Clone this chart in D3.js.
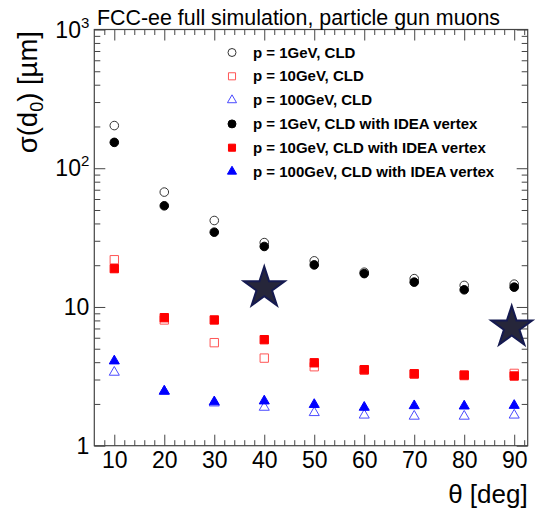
<!DOCTYPE html>
<html>
<head>
<meta charset="utf-8">
<script src="https://cdn.jsdelivr.net/npm/d3@7.9.0/dist/d3.min.js"></script>
<style>
  body { margin: 0; background: #fff; }
  svg { font-family: "Liberation Sans", Arial, Helvetica, sans-serif; }
</style>
</head>
<body>
<svg id="chart" width="539" height="512"></svg>
<script>
// theta bins (deg)
const theta = [10, 20, 30, 40, 50, 60, 70, 80, 90];

// sigma(d0) in um
const cld1 = [203, 67.3, 42.0, 29.1, 21.5, 17.8, 16.0, 14.3, 14.6];
const cld10 = [21.9, 8.06, 5.53, 4.28, 3.71, 3.51, 3.28, 3.2, 3.32];
const cld100 = [3.38, 2.47, 2.03, 1.89, 1.73, 1.66, 1.63, 1.63, 1.66];
const idea1 = [153.6, 53.6, 34.6, 27.3, 20.1, 17.4, 15.1, 13.3, 13.9];
const idea10 = [18.9, 8.37, 8.06, 5.81, 3.96, 3.53, 3.30, 3.23, 3.18];
const idea100 = [4.08, 2.47, 2.07, 2.10, 1.98, 1.89, 1.94, 1.93, 1.95];

// the two big stars
const starTheta = [40, 89.5];
const starVal = [13.7, 7.14];

const xTicks = [10, 20, 30, 40, 50, 60, 70, 80, 90];
const yTicks = [1, 10, 100, 1000];
const yTickLabels = [["1", ""], ["10", ""], ["10", "2"], ["10", "3"]];

const legendLabels = [
  "p = 1GeV, CLD",
  "p = 10GeV, CLD",
  "p = 100GeV, CLD",
  "p = 1GeV, CLD with IDEA vertex",
  "p = 10GeV, CLD with IDEA vertex",
  "p = 100GeV, CLD with IDEA vertex"
];

const pLeft = 94.3, pRight = 527.7, pTop = 29.5, pBottom = 445.7;

const svg = d3.select("#chart");

const x = d3.scaleLinear().domain([6, 92.7]).range([pLeft, pRight]);
const y = d3.scaleLog().domain([1, 1000]).range([pBottom, pTop]);

// minor ticks
let xMinor = d3.range(8, 93, 2).filter(v => v % 10 !== 0);
let yMinor = [];
[1, 10, 100].forEach(d => { for (let k = 2; k <= 9; k++) yMinor.push(d * k); });

const axisColor = "#444";

function styleAxis(g) {
  g.select(".domain").remove();
  g.selectAll("line").attr("stroke", axisColor).attr("stroke-width", 1);
}

// bottom
svg.append("g").attr("transform", `translate(0,${pBottom})`)
  .call(d3.axisBottom(x).tickValues(xTicks).tickSize(-11).tickPadding(6))
  .call(styleAxis)
  .call(g => g.selectAll("text").attr("font-size", 23).attr("fill", "#000")
    .attr("font-family", "Liberation Sans, Arial, sans-serif"));
svg.append("g").attr("transform", `translate(0,${pBottom})`)
  .call(d3.axisBottom(x).tickValues(xMinor).tickSize(-5.5).tickFormat(""))
  .call(styleAxis);
// top
svg.append("g").attr("transform", `translate(0,${pTop})`)
  .call(d3.axisTop(x).tickValues(xTicks).tickSize(-11).tickFormat(""))
  .call(styleAxis);
svg.append("g").attr("transform", `translate(0,${pTop})`)
  .call(d3.axisTop(x).tickValues(xMinor).tickSize(-5.5).tickFormat(""))
  .call(styleAxis);
// left
svg.append("g").attr("transform", `translate(${pLeft},0)`)
  .call(d3.axisLeft(y).tickValues(yTicks).tickSize(-11).tickFormat(""))
  .call(styleAxis);
svg.append("g").attr("transform", `translate(${pLeft},0)`)
  .call(d3.axisLeft(y).tickValues(yMinor).tickSize(-6).tickFormat(""))
  .call(styleAxis);
// right
svg.append("g").attr("transform", `translate(${pRight},0)`)
  .call(d3.axisRight(y).tickValues(yTicks).tickSize(-11).tickFormat(""))
  .call(styleAxis);
svg.append("g").attr("transform", `translate(${pRight},0)`)
  .call(d3.axisRight(y).tickValues(yMinor).tickSize(-6).tickFormat(""))
  .call(styleAxis);

// frame
svg.append("rect")
  .attr("x", pLeft).attr("y", pTop)
  .attr("width", pRight - pLeft).attr("height", pBottom - pTop)
  .attr("fill", "none").attr("stroke", axisColor).attr("stroke-width", 1.2);

// y tick labels with superscripts
yTicks.forEach((v, i) => {
  const t = svg.append("text")
    .attr("x", pLeft - 5).attr("y", y(v) + 8)
    .attr("text-anchor", "end")
    .attr("font-size", 23);
  t.append("tspan").text(yTickLabels[i][0]);
  if (yTickLabels[i][1]) {
    t.append("tspan").attr("font-size", 15).attr("dy", -10).text(yTickLabels[i][1]);
  }
});

// title
svg.append("text")
  .attr("x", 97).attr("y", 25)
  .attr("font-size", 21.4)
  .text("FCC-ee full simulation, particle gun muons");

// axis titles
svg.append("text")
  .attr("x", pRight).attr("y", 503)
  .attr("text-anchor", "end")
  .attr("font-size", 26)
  .text("θ [deg]");

const yl = svg.append("text")
  .attr("transform", "translate(37,31) rotate(-90)")
  .attr("text-anchor", "end")
  .attr("font-size", 27.5);
yl.append("tspan").text("σ(d");
yl.append("tspan").attr("font-size", 18).attr("dy", 6).text("0");
yl.append("tspan").attr("dy", -6).text(") [µm]");

// marker shapes (plot size, legend size)
const shapes = {
  circle: [d3.symbol().type(d3.symbolCircle).size(58)(), d3.symbol().type(d3.symbolCircle).size(50)()],
  square: [d3.symbol().type(d3.symbolSquare).size(70)(), d3.symbol().type(d3.symbolSquare).size(50)()],
  tri: [d3.symbol().type(d3.symbolTriangle).size(44)(), d3.symbol().type(d3.symbolTriangle).size(36)()]
};

const series = [
  { vals: cld1, shape: "circle", fill: "none", stroke: "#333" },
  { vals: cld10, shape: "square", fill: "none", stroke: "#ff5555" },
  { vals: cld100, shape: "tri", fill: "none", stroke: "#4a4aff" },
  { vals: idea1, shape: "circle", fill: "#000", stroke: "#000" },
  { vals: idea10, shape: "square", fill: "#ff0000", stroke: "#ff0000" },
  { vals: idea100, shape: "tri", fill: "#0000ff", stroke: "#0000ff" }
];

series.forEach(s => {
  svg.append("g").selectAll("path")
    .data(theta.map((t, i) => [t, s.vals[i]]))
    .join("path")
    .attr("transform", d => `translate(${x(d[0])},${y(d[1])})`)
    .attr("d", shapes[s.shape][0])
    .attr("fill", s.fill)
    .attr("stroke", s.stroke)
    .attr("stroke-width", 1);
});

// stars
const symStar = d3.symbol().type(d3.symbolStar).size(520);
svg.append("g").selectAll("path")
  .data(starTheta.map((t, i) => [t, starVal[i]]))
  .join("path")
  .attr("transform", d => `translate(${x(d[0])},${y(d[1])})`)
  .attr("d", symStar)
  .attr("fill", "#26263a")
  .attr("stroke", "#151a50")
  .attr("stroke-width", 2);

// legend
const lg = svg.append("g");
legendLabels.forEach((lab, i) => {
  const ly = 52.5 + i * 23.8;
  const s = series[i];
  lg.append("path")
    .attr("transform", `translate(232,${ly})`)
    .attr("d", shapes[s.shape][1])
    .attr("fill", s.fill).attr("stroke", s.stroke).attr("stroke-width", 1);
  lg.append("text")
    .attr("x", 253).attr("y", ly + 5)
    .attr("font-size", 15).attr("font-weight", "bold")
    .text(lab);
});
</script>
</body>
</html>
